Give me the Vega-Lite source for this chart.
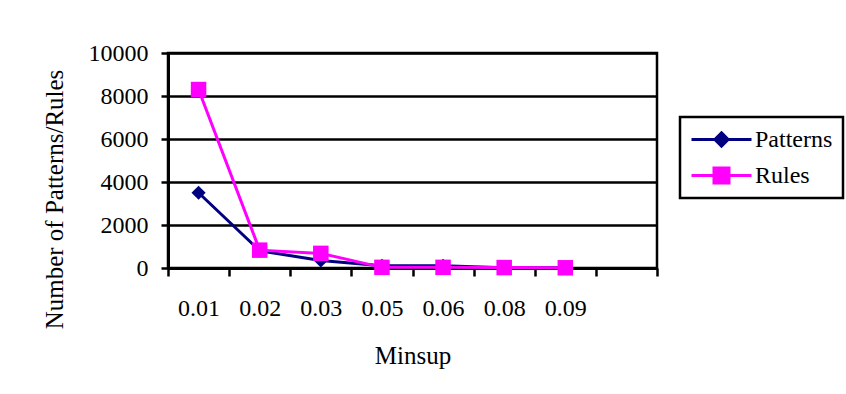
{
  "$schema": "https://vega.github.io/schema/vega-lite/v6.json",
  "autosize": "none",
  "width": 489,
  "height": 215,
  "padding": {"left": 168, "top": 53, "right": 189, "bottom": 126},
  "background": "white",
  "config": {
    "font": "Liberation Serif",
    "view": {"stroke": "black", "strokeWidth": 2.5},
    "axis": {"labelFont": "Liberation Serif", "titleFont": "Liberation Serif", "labelColor": "black", "titleColor": "black", "titleFontWeight": "normal"},
    "legend": {"labelFont": "Liberation Serif"}
  },
  "data": {
    "values": [
      {"minsup": "0.01", "series": "Patterns", "count": 3500},
      {"minsup": "0.02", "series": "Patterns", "count": 800},
      {"minsup": "0.03", "series": "Patterns", "count": 350},
      {"minsup": "0.05", "series": "Patterns", "count": 100},
      {"minsup": "0.06", "series": "Patterns", "count": 100},
      {"minsup": "0.08", "series": "Patterns", "count": 15},
      {"minsup": "0.09", "series": "Patterns", "count": 10},
      {"minsup": "0.01", "series": "Rules", "count": 8300},
      {"minsup": "0.02", "series": "Rules", "count": 830},
      {"minsup": "0.03", "series": "Rules", "count": 680},
      {"minsup": "0.05", "series": "Rules", "count": 30},
      {"minsup": "0.06", "series": "Rules", "count": 30},
      {"minsup": "0.08", "series": "Rules", "count": 20},
      {"minsup": "0.09", "series": "Rules", "count": 10}
    ]
  },
  "encoding": {
    "x": {
      "field": "minsup", "type": "nominal", "sort": null,
      "scale": {"type": "band", "domain": ["0.01","0.02","0.03","0.05","0.06","0.08","0.09"," "], "paddingInner": 0, "paddingOuter": 0},
      "axis": {
        "title": "Minsup", "titleFontSize": 25, "titleY": 95, "titleBaseline": "alphabetic",
        "labelAngle": 0, "labelFontSize": 24, "labelBaseline": "alphabetic", "labelPadding": 39,
        "tickBand": "extent", "tickSize": 8, "tickColor": "black", "tickWidth": 2.5,
        "domainColor": "black", "domainWidth": 3, "grid": false
      }
    },
    "y": {
      "field": "count", "type": "quantitative",
      "scale": {"domain": [0, 10000], "nice": false},
      "axis": {
        "title": "Number of Patterns/Rules", "titleFontSize": 25, "titleX": -106, "titleY": 146, "titleBaseline": "alphabetic", "titleAngle": -90, "titleAlign": "center",
        "values": [0, 2000, 4000, 6000, 8000, 10000], "format": "d",
        "labelFontSize": 24, "labelPadding": 13,
        "tickSize": 7, "tickColor": "black", "tickWidth": 2.5,
        "domainColor": "black", "domainWidth": 3,
        "grid": true, "gridColor": "black", "gridWidth": 2.5, "gridOpacity": 1
      }
    },
    "color": {
      "field": "series", "type": "nominal",
      "scale": {"domain": ["Patterns", "Rules"], "range": ["#000080", "#FF00FF"]},
      "legend": {
        "title": null, "orient": "none", "legendX": 512, "legendY": 64,
        "strokeColor": "black", "fillColor": "white",
        "padding": 10, "labelFontSize": 24, "labelColor": "black", "labelOffset": 2,
        "symbolSize": 3600, "clipHeight": 25, "rowPadding": 11,
        "symbolStrokeWidth": 3,
        "encode": {
          "legend": {"update": {"strokeWidth": {"value": 2.5}}},
          "symbols": {
            "update": {
              "shape": {"signal": "datum.value == 'Patterns' ? 'M-1,0H1M0,-0.22L0.22,0L0,0.22L-0.22,0Z' : 'M-1,0H1M-0.25,-0.25H0.25V0.25H-0.25Z'"},
              "fill": {"signal": "datum.value == 'Patterns' ? '#000080' : '#FF00FF'"},
              "stroke": {"signal": "datum.value == 'Patterns' ? '#000080' : '#FF00FF'"},
              "strokeWidth": {"value": 3},
              "opacity": {"value": 1},
              "fillOpacity": {"value": 1}
            }
          }
        }
      }
    }
  },
  "layer": [
    {"mark": {"type": "line", "strokeWidth": 3}},
    {
      "transform": [{"filter": "datum.series == 'Patterns'"}],
      "mark": {"type": "point", "filled": true, "opacity": 1, "shape": "diamond", "size": 200}
    },
    {
      "transform": [{"filter": "datum.series == 'Rules'"}],
      "mark": {"type": "point", "filled": true, "opacity": 1, "shape": "square", "size": 240}
    }
  ]
}
